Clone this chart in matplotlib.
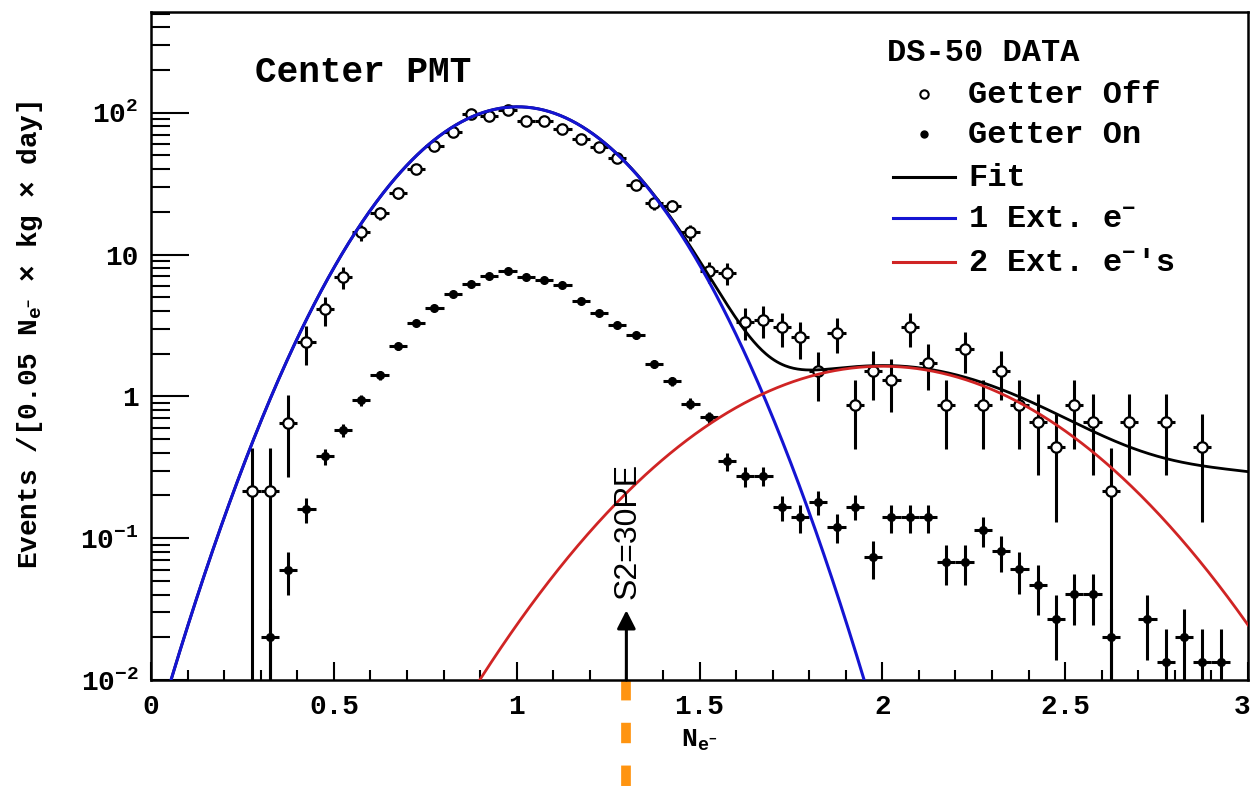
import numpy as np
import matplotlib.pyplot as plt
import matplotlib.transforms as mtransforms
from matplotlib.ticker import MultipleLocator, NullFormatter

plt.rcParams['font.family'] = ['Liberation Mono', 'DejaVu Sans']
plt.rcParams['font.weight'] = 'bold'
plt.rcParams['axes.labelweight'] = 'bold'
plt.rcParams['mathtext.default'] = 'regular'

# --- data: bin centres in N_e- (bin width 0.05) ---
x_off = [0.275, 0.325, 0.375, 0.425, 0.475, 0.525, 0.575, 0.625, 0.675, 0.725,
         0.775, 0.825, 0.875, 0.925, 0.975, 1.025, 1.075, 1.125, 1.175, 1.225,
         1.275, 1.325, 1.375, 1.425, 1.475, 1.525, 1.575, 1.625, 1.675, 1.725,
         1.775, 1.825, 1.875, 1.925, 1.975, 2.025, 2.075, 2.125, 2.175, 2.225,
         2.275, 2.325, 2.375, 2.425, 2.475, 2.525, 2.575, 2.625, 2.675, 2.775,
         2.875]
y_off = [0.214, 0.214, 0.645, 2.4, 4.1, 6.9, 14.3, 19.5, 27, 40,
         58.7, 73, 98, 95, 105, 88, 87, 77, 65.6, 57.5,
         48, 31, 23, 22, 14.3, 7.6, 7.4, 3.37, 3.45, 3.06,
         2.6, 1.5, 2.8, 0.865, 1.52, 1.3, 3.06, 1.73, 0.865, 2.14,
         0.865, 1.52, 0.865, 0.66, 0.44, 0.865, 0.66, 0.214, 0.66, 0.66,
         0.44]
err_off = [0.217, 0.217, 0.377, 0.73, 0.95, 1.23, 1.77, 2.07, 2.44, 2.97,
           3.59, 4.0, 4.64, 4.57, 4.8, 4.4, 4.37, 4.12, 3.8, 3.56,
           3.25, 2.61, 2.25, 2.2, 1.77, 1.29, 1.28, 0.86, 0.87, 0.82,
           0.76, 0.57, 0.78, 0.44, 0.58, 0.53, 0.82, 0.62, 0.44, 0.69,
           0.44, 0.58, 0.44, 0.38, 0.31, 0.44, 0.38, 0.217, 0.38, 0.38,
           0.31]

x_on = [0.325, 0.375, 0.425, 0.475, 0.525, 0.575, 0.625, 0.675, 0.725, 0.775,
        0.825, 0.875, 0.925, 0.975, 1.025, 1.075, 1.125, 1.175, 1.225, 1.275,
        1.325, 1.375, 1.425, 1.475, 1.525, 1.575, 1.625, 1.675, 1.725, 1.775,
        1.825, 1.875, 1.925, 1.975, 2.025, 2.075, 2.125, 2.175, 2.225, 2.275,
        2.325, 2.375, 2.425, 2.475, 2.525, 2.575, 2.625, 2.725, 2.775, 2.825,
        2.875, 2.925]
y_on = [0.020, 0.060, 0.16, 0.378, 0.577, 0.94, 1.41, 2.25, 3.3, 4.2,
        5.3, 6.15, 7.0, 7.6, 6.9, 6.6, 6.05, 4.7, 3.9, 3.16,
        2.69, 1.7, 1.28, 0.89, 0.71, 0.348, 0.273, 0.275, 0.165, 0.14,
        0.18, 0.12, 0.167, 0.0735, 0.14, 0.14, 0.14, 0.068, 0.068, 0.114,
        0.081, 0.0605, 0.0467, 0.0269, 0.0403, 0.0403, 0.0201, 0.0269, 0.0134, 0.0201,
        0.0134, 0.0134]
err_on = [0.0116, 0.020, 0.033, 0.050, 0.062, 0.079, 0.097, 0.123, 0.149, 0.168,
          0.188, 0.203, 0.217, 0.226, 0.215, 0.210, 0.201, 0.177, 0.162, 0.146,
          0.134, 0.107, 0.093, 0.077, 0.069, 0.048, 0.043, 0.043, 0.033, 0.031,
          0.035, 0.028, 0.033, 0.022, 0.031, 0.031, 0.031, 0.021, 0.021, 0.028,
          0.023, 0.020, 0.018, 0.013, 0.016, 0.016, 0.0116, 0.013, 0.0095, 0.0116,
          0.0095, 0.0095]
bin_half = 0.025

# fit components (amplitude, mean, sigma)
one_e = (110.0, 1.0025, 0.2197)
two_e = (1.63, 2.0, 0.345)
three_e = (0.27, 3.0, 0.42)

x_ticks = [0, 0.5, 1, 1.5, 2, 2.5, 3]
x_ticklabels = ['0', '0.5', '1', '1.5', '2', '2.5', '3']
y_ticks = [0.01, 0.1, 1, 10, 100]
y_ticklabels = ['$10^{-2}$', '$10^{-1}$', '1', '10', '$10^{2}$']

threshold_x = 1.3
legend_labels = ['Getter Off', 'Getter On', 'Fit', '1 Ext. e$^{-}$', "2 Ext. e$^{-}$'s"]

BLUE = '#1414d2'
RED = '#d02424'


def gauss(x, p):
    a, m, s = p
    return a * np.exp(-0.5 * ((x - m) / s) ** 2)


fig = plt.figure(figsize=(12.53, 7.88), dpi=100)
ax = fig.add_axes([151 / 1253, 108 / 788, 1097 / 1253, 668 / 788])
ax.set_yscale('log', nonpositive='clip')
ax.set_xlim(0, 3)
ax.set_ylim(0.01, 10 ** 2.71)

# data points
ax.errorbar(x_off, y_off, yerr=err_off, xerr=bin_half, fmt='o', ms=7.5,
            mfc='white', mec='black', mew=1.6, ecolor='black', elinewidth=2.2,
            capsize=0, zorder=3)
ax.errorbar(x_on, y_on, yerr=err_on, xerr=bin_half, fmt='o', ms=5.5,
            mfc='black', mec='black', ecolor='black', elinewidth=2.2,
            capsize=0, zorder=3)

# fit curves
xc = np.linspace(0, 3, 800)
ax.plot(xc, gauss(xc, one_e) + gauss(xc, two_e) + gauss(xc, three_e),
        color='black', lw=2.0, zorder=4)
ax.plot(xc, gauss(xc, one_e), color=BLUE, lw=2.2, zorder=5)
ax.plot(xc, gauss(xc, two_e), color=RED, lw=2.0, zorder=5)

# S2 threshold arrow + dashed marker below the axis
ax.annotate('', xy=(threshold_x, 0.031), xytext=(threshold_x, 0.01),
            arrowprops=dict(arrowstyle='-|>,head_width=0.28,head_length=0.55',
                            color='black', lw=2.2, shrinkA=0, shrinkB=0,
                            mutation_scale=20), zorder=6)
ax.text(threshold_x + 0.004, 0.037, 'S2=30PE', rotation=90, ha='center',
        va='bottom', fontsize=23, fontweight='normal',
        family=['Liberation Sans', 'DejaVu Sans'], zorder=6)
trans = mtransforms.blended_transform_factory(ax.transData, ax.transAxes)
ax.plot([threshold_x, threshold_x], [0, -0.165], transform=trans, clip_on=False,
        color='#ff9410', lw=7, linestyle=(0, (2.1, 2.3)), dash_capstyle='butt')

# axes styling
ax.set_xticks(x_ticks, labels=x_ticklabels)
ax.xaxis.set_minor_locator(MultipleLocator(0.1))
ax.set_yticks(y_ticks, labels=y_ticklabels)
ax.yaxis.set_minor_formatter(NullFormatter())
ax.tick_params(which='both', direction='in', width=1.5, labelsize=20)
ax.tick_params(axis='y', which='major', length=27, pad=9)
ax.tick_params(axis='y', which='minor', length=14)
ax.tick_params(axis='x', which='major', length=13, pad=10)
ax.tick_params(axis='x', which='minor', length=7)
for sp in ax.spines.values():
    sp.set_linewidth(1.8)

# keep the last x label inside the picture
last = ax.get_xticklabels()[-1]
last.set_transform(last.get_transform() +
                   mtransforms.ScaledTranslation(-6 / 100, 0, fig.dpi_scale_trans))

ax.set_xlabel('N$_{e^{-}}$', fontsize=19, fontweight='bold')
ax.xaxis.set_label_coords(0.5, -0.072)
ax.set_ylabel('Events /[0.05 N$_{e^{-}}$ × kg × day]', fontsize=20, fontweight='bold')
ax.yaxis.set_label_coords(-0.097, 0.517)

ax.text(0.0948, 0.910, 'Center PMT', transform=ax.transAxes, fontsize=26,
        ha='left', va='center')

# legend (drawn by hand, ROOT style)
ax.text(0.671, 0.9266, 'DS-50 DATA', transform=ax.transAxes, fontsize=23,
        ha='left', va='baseline')
row_mid = [0.8772, 0.8174, 0.7530, 0.6916, 0.6257]
row_base = [0.8638, 0.8039, 0.7395, 0.6781, 0.6123]
ax.plot(0.7047, row_mid[0], 'o', ms=6, mfc='white', mec='black', mew=1.5,
        transform=ax.transAxes)
ax.plot(0.7047, row_mid[1], 'o', ms=5, mfc='black', mec='black',
        transform=ax.transAxes)
for yy, col in zip(row_mid[2:], ['black', BLUE, RED]):
    ax.plot([0.6764, 0.7329], [yy, yy], color=col, lw=2.2, transform=ax.transAxes)
for yy, lab in zip(row_base, legend_labels):
    ax.text(0.7448, yy, lab, transform=ax.transAxes, fontsize=23,
            ha='left', va='baseline')

fig.savefig('out.png', dpi=100)
